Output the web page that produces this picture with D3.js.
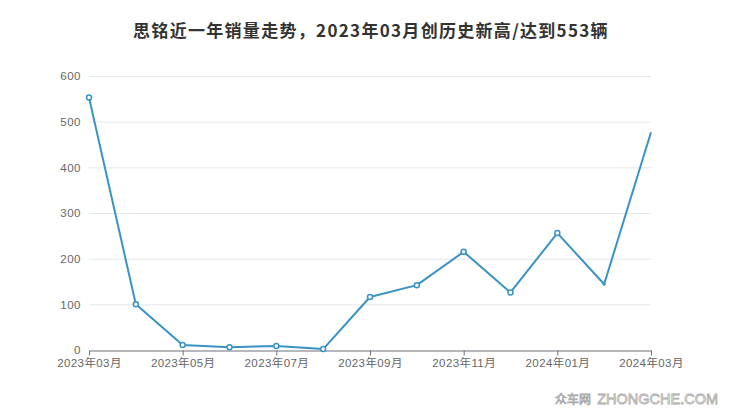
<!DOCTYPE html>
<html>
<head>
<meta charset="utf-8">
<script src="https://cdn.jsdelivr.net/npm/d3@7/dist/d3.min.js"></script>
<style>
  body { margin: 0; background: #fff; }
  svg { display: block; font-family: "Liberation Sans", "Noto Sans CJK SC", sans-serif; }
</style>
</head>
<body>
<div id="chart"></div>
<script>
// monthly sales, 2023-03 .. 2024-03
const months = ["2023年03月", "2023年04月", "2023年05月", "2023年06月", "2023年07月", "2023年08月",
  "2023年09月", "2023年10月", "2023年11月", "2023年12月", "2024年01月", "2024年02月", "2024年03月"];
const sales = [553, 100, 11, 6, 9, 2, 116, 142, 215, 126, 256, 144, 477];
const yTicks = [0, 100, 200, 300, 400, 500, 600];

const width = 740;
const height = 417;
const margin = { top: 76, right: 89, bottom: 67, left: 89 };

const svg = d3.select('#chart')
  .append('svg')
  .attr('width', width)
  .attr('height', height)

svg.append('text')
  .attr('x', width / 2 + 1)
  .attr('y', 37)
  .attr('text-anchor', 'middle')
  .attr('font-size', '17px')
  .attr('font-weight', 'bold')
  .attr('letter-spacing', '1.3px')
  .attr('fill', '#333')
  .attr('font-family', '"Noto Sans CJK SC", sans-serif')
  .text('思铭近一年销量走势，2023年03月创历史新高/达到553辆')

const x = d3.scalePoint()
  .domain(months)
  .range([margin.left, width - margin.right - 0]);

const y = d3.scaleLinear()
  .domain([0, 600])
  .range([height - margin.bottom, margin.top]);

// grid
svg.append('g')
  .selectAll('line')
  .data(yTicks.slice(1))
  .join('line')
  .attr('x1', margin.left)
  .attr('x2', width - margin.right)
  .attr('y1', d => y(d) + 0.5)
  .attr('y2', d => y(d) + 0.5)
  .attr('stroke', '#e4e7ee')

function yAxis(g) {
  g.attr('transform', `translate(${margin.left - 8}, 0)`)
    .call(d3.axisLeft(y).tickValues(yTicks).tickSize(0).tickPadding(0))
    .call(g => g.select('.domain').remove())
    .selectAll('text')
    .attr('font-size', '11.5px')
    .attr('letter-spacing', '0.5px')
    .attr('fill', '#666')
}

function xAxis(g) {
  g.attr('transform', `translate(0, ${height - margin.bottom + 0.5})`)
    .call(d3.axisBottom(x)
      .tickValues(months.filter((d, i) => i % 2 === 0))
      .tickSize(5).tickSizeOuter(0).tickPadding(3))
    .call(g => g.select('.domain').attr('stroke', '#6e7079'))
    .call(g => g.selectAll('.tick line').attr('stroke', '#6e7079'))
    .selectAll('text')
    .attr('font-size', '11.5px')
    .attr('letter-spacing', '0.4px')
    .attr('fill', '#666')
    .attr('font-family', '"Liberation Sans", "Noto Sans CJK SC", sans-serif')
}

svg.append('g').call(yAxis)
svg.append('g').call(xAxis)

const line = d3.line()
  .x((d, i) => x(months[i]))
  .y(d => y(d))

svg.append('path')
  .datum(sales)
  .attr('fill', 'none')
  .attr('stroke', '#3a93c6')
  .attr('stroke-width', 2)
  .attr('stroke-linejoin', 'round')
  .attr('d', line)

// markers: last two points show no hollow symbol in the reference
svg.append('g')
  .selectAll('circle')
  .data(sales.slice(0, 11))
  .join('circle')
  .attr('cx', (d, i) => x(months[i]))
  .attr('cy', d => y(d))
  .attr('r', 2.5)
  .attr('fill', '#fff')
  .attr('stroke', '#3a93c6')
  .attr('stroke-width', 1.5)

svg.append('circle')
  .attr('cx', x(months[11]))
  .attr('cy', y(sales[11]))
  .attr('r', 1.5)
  .attr('fill', '#3a93c6')

// watermark
const wm = svg.append('g')
  .attr('fill', '#fff')
  .attr('stroke', '#aaa')
  .attr('stroke-width', 0.8)

wm.append('text')
  .attr('x', 555)
  .attr('y', 404)
  .attr('font-size', '12px')
  .attr('font-family', '"Noto Sans CJK SC", sans-serif')
  .text('众车网')

wm.append('text')
  .attr('x', 718)
  .attr('y', 404)
  .attr('font-size', '14.5px')
  .attr('text-anchor', 'end')
  .attr('font-family', '"Liberation Sans", sans-serif')
  .text('ZHONGCHE.COM')
</script>
</body>
</html>
